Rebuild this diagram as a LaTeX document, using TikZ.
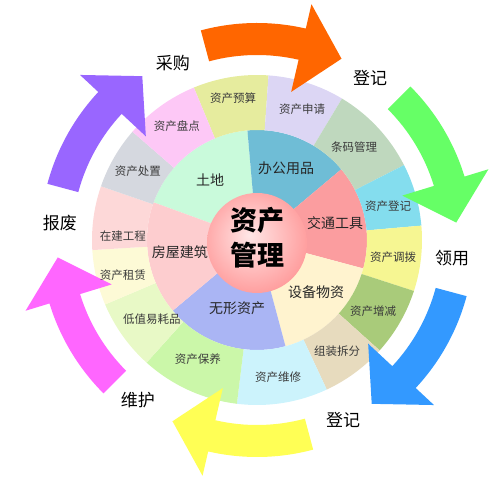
\documentclass[tikz,border=0pt]{standalone}
\usepackage{fontspec}
\setmainfont{Noto Sans CJK SC}
\definecolor{cYS}{HTML}{E6EC9E}
\definecolor{cSQ}{HTML}{DCD6F4}
\definecolor{cTM}{HTML}{BFD8BE}
\definecolor{cDJ}{HTML}{84DDEE}
\definecolor{cDB}{HTML}{F6F692}
\definecolor{cZJ}{HTML}{A9CB7A}
\definecolor{cZZ}{HTML}{E7DBBE}
\definecolor{cWX}{HTML}{CCF3FC}
\definecolor{cBY}{HTML}{CBF7A9}
\definecolor{cDZ}{HTML}{E8F9C6}
\definecolor{cZL}{HTML}{FDFAD6}
\definecolor{cZG}{HTML}{FDD8D8}
\definecolor{cCZ}{HTML}{D5D8DF}
\definecolor{cPD}{HTML}{FDC8F6}
\definecolor{mTD}{HTML}{C9FADB}
\definecolor{mBG}{HTML}{6FBDD6}
\definecolor{mJT}{HTML}{FB9D9F}
\definecolor{mSB}{HTML}{FFF3CF}
\definecolor{mWX}{HTML}{AAB5F4}
\definecolor{mFW}{HTML}{FDCDCF}
\definecolor{aOr}{HTML}{FF6600}
\definecolor{aGr}{HTML}{66FF66}
\definecolor{aBl}{HTML}{3399FF}
\definecolor{aYe}{HTML}{FFFF55}
\definecolor{aMa}{HTML}{FF66FF}
\definecolor{aPu}{HTML}{9966FF}
\definecolor{txt}{HTML}{3A3A3A}
\definecolor{hubin}{HTML}{FFE6E6}
\definecolor{hubmid}{HTML}{FF9C9C}
\definecolor{hubout}{HTML}{EE5050}
\pgfdeclareradialshading{hubshade}{\pgfpoint{-4bp}{4bp}}{color(0bp)=(hubin); color(28bp)=(hubmid); color(48bp)=(hubout); color(50bp)=(hubout)}
\newcommand\ringseg[5]{%
  \fill[#5] (#1:#3) arc[start angle=#1,end angle=#2,radius=#3] -- (#2:#4)
    arc[start angle=#2,end angle=#1,radius=#4] -- cycle;}
\newcommand\cyclearrow[2]{%
  \pgfmathsetmacro\ab{#1-28}\pgfmathsetmacro\at{#1-40}%
  \fill[#2] (#1:217) arc[start angle=#1,end angle=\ab,radius=217] -- (\ab:242)
    -- (\at:200) -- (\ab:152) -- (\ab:185)
    arc[start angle=\ab,end angle=#1,radius=185] -- cycle;}
\begin{document}
\begin{tikzpicture}[x=1pt,y=1pt,
  outtxt/.style={text=txt,font=\fontsize{11.5}{13}\selectfont,inner sep=0pt},
  midtxt/.style={text=black!85,font=\fontsize{14}{16}\selectfont,inner sep=0pt},
  steplabel/.style={text=black,font=\fontsize{17}{19}\selectfont,inner sep=0pt},
  hubtxt/.style={text=black,font=\fontsize{27}{30}\selectfont\bfseries,inner sep=0pt}]
\useasboundingbox (-257,-238) rectangle (243,240);
% middle ring
\ringseg{95}{160}{0.01}{110}{mTD}
\ringseg{40}{95}{0.01}{110}{mBG}
\ringseg{-15}{40}{0.01}{110}{mJT}
\ringseg{-75}{-15}{0.01}{110}{mSB}
\ringseg{220}{285}{0.01}{110}{mWX}
\ringseg{160}{220}{0.01}{110}{mFW}
% outer ring
\ringseg{86}{112.5}{110}{165}{cYS}
\ringseg{59}{86}{110}{165}{cSQ}
\ringseg{27}{59}{110}{165}{cTM}
\ringseg{5}{27}{110}{165}{cDJ}
\ringseg{-18}{5}{110}{165}{cDB}
\ringseg{-42}{-18}{110}{165}{cZJ}
\ringseg{-65}{-42}{110}{165}{cZZ}
\ringseg{-97}{-65}{110}{165}{cWX}
\ringseg{-132}{-97}{110}{165}{cBY}
\ringseg{203}{228}{110}{165}{cDZ}
\ringseg{183.5}{203}{110}{165}{cZL}
\ringseg{161}{183.5}{110}{165}{cZG}
\ringseg{139}{161}{110}{165}{cCZ}
\ringseg{112.5}{139}{110}{165}{cPD}
% hub
\shade[shading=hubshade] (0,-3) circle[radius=50];
% cycle arrows
\cyclearrow{105}{aOr}
\cyclearrow{45}{aGr}
\cyclearrow{-15}{aBl}
\cyclearrow{-75}{aYe}
\cyclearrow{225}{aMa}
\cyclearrow{165}{aPu}
% outer texts
\node[outtxt] (o1) at (-24,142) {资产预算};
\node[outtxt] (o2) at (45,131) {资产申请};
\node[outtxt] (o3) at (97,93) {条码管理};
\node[outtxt] (o4) at (131,34) {资产登记};
\node[outtxt] (o5) at (136,-17) {资产调拨};
\node[outtxt] (o6) at (116,-71) {资产增减};
\node[outtxt] (o7) at (80,-111) {组装拆分};
\node[outtxt] (o8) at (21,-137) {资产维修};
\node[outtxt] (o9) at (-59,-119) {资产保养};
\node[outtxt] (o10) at (-105,-79) {低值易耗品};
\node[outtxt] (o11) at (-134,-35) {资产租赁};
\node[outtxt] (o12) at (-134,4) {在建工程};
\node[outtxt] (o13) at (-119,69) {资产处置};
\node[outtxt] (o14) at (-80,114) {资产盘点};
% middle texts
\node[midtxt] (m1) at (-47,60) {土地};
\node[midtxt] (m2) at (29,72) {办公用品};
\node[midtxt] (m3) at (78,17) {交通工具};
\node[midtxt] (m4) at (59,-52) {设备物资};
\node[midtxt] (m5) at (-20,-68) {无形资产};
\node[midtxt] (m6) at (-77,-12) {房屋建筑};
% hub text
\node[hubtxt] (h1) at (0,20) {资产};
\node[hubtxt] (h2) at (0,-15) {管理};
% step labels
\node[steplabel] (s1) at (-84,177) {采购};
\node[steplabel] (s2) at (113,162) {登记};
\node[steplabel] (s3) at (195,-18) {领用};
\node[steplabel] (s4) at (86,-180) {登记};
\node[steplabel] (s5) at (-119,-160) {维护};
\node[steplabel] (s6) at (-197,17) {报废};
\end{tikzpicture}
\end{document}
